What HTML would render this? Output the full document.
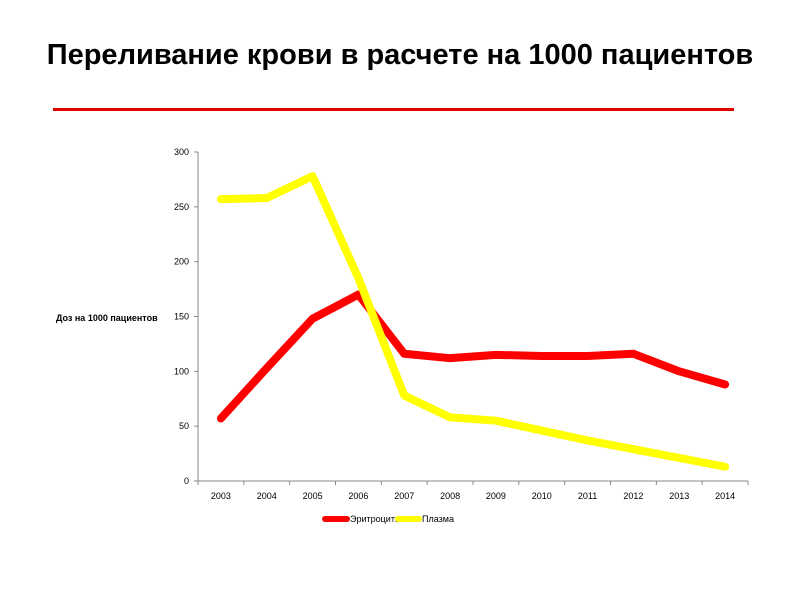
<!DOCTYPE html>
<html><head><meta charset="utf-8"><style>
body{margin:0;background:#fff;width:800px;height:600px;overflow:hidden;font-family:"Liberation Sans",sans-serif}
</style></head><body>
<svg width="800" height="600" xmlns="http://www.w3.org/2000/svg">
<text x="400" y="64" text-anchor="middle" font-family="Liberation Sans, sans-serif" font-weight="bold" font-size="29">Переливание крови в расчете на 1000 пациентов</text>
<rect x="53" y="108" width="681" height="3" fill="#e00000"/>
<g id="axes"></g>
<g id="series"></g>
<text x="56" y="321" font-size="9" font-weight="bold">Доз на 1000 пациентов</text>
<g>
<line x1="325" y1="519" x2="347" y2="519" stroke="#ff0000" stroke-width="6" stroke-linecap="round"/>
<text x="350" y="522" font-size="9">Эритроциты</text>
<line x1="398" y1="519" x2="419" y2="519" stroke="#ffff00" stroke-width="6" stroke-linecap="round"/>
<text x="422" y="522" font-size="9">Плазма</text>
</g>
</svg>
<script>
const categories=["2003","2004","2005","2006","2007","2008","2009","2010","2011","2012","2013","2014"];
const erythrocytes=[57,103,148,170,116,112,115,114,114,116,100,88];
const plasma=[257,258,278,185,78,58,55,46,37,29,21,13];
const yTicks=[0,50,100,150,200,250,300];
const NS="http://www.w3.org/2000/svg";
const x0=198,x1=748,yB=481,yT=152,yMax=300;
const bw=(x1-x0)/categories.length;
const xs=i=>x0+bw*(i+0.5);
const ys=v=>yB-(v/yMax)*(yB-yT);
function mk(t,a,p){const e=document.createElementNS(NS,t);for(const k in a)e.setAttribute(k,a[k]);p.appendChild(e);return e;}
const ax=document.getElementById('axes');
let l=mk('line',{x1:x0,y1:yT,x2:x0,y2:yB,stroke:'#888'},ax);


l=mk('line',{x1:x0,y1:yB,x2:x1,y2:yB,stroke:'#888'},ax);


yTicks.forEach(v=>{
 mk('line',{x1:x0-4,y1:ys(v),x2:x0,y2:ys(v),stroke:'#888'},ax);
 const t=mk('text',{x:x0-9,y:ys(v)+3,'text-anchor':'end','font-size':9},ax);t.textContent=v;
 
 
});
for(let i=0;i<=categories.length;i++)mk('line',{x1:x0+bw*i,y1:yB,x2:x0+bw*i,y2:yB+4,stroke:'#888'},ax);
categories.forEach((c,i)=>{
 const t=mk('text',{x:xs(i),y:yB+18,'text-anchor':'middle','font-size':9},ax);t.textContent=c;
 
 
});
const sg=document.getElementById('series');
[[erythrocytes,'#ff0000','line-erythrocytes'],[plasma,'#ffff00','line-plasma']].forEach(([d,c,n])=>{
 const p=mk('polyline',{points:d.map((v,i)=>xs(i)+','+ys(v)).join(' '),fill:'none',stroke:c,'stroke-width':8,'stroke-linecap':'round','stroke-linejoin':'round'},sg);
 
 
});
</script>
</body></html>
